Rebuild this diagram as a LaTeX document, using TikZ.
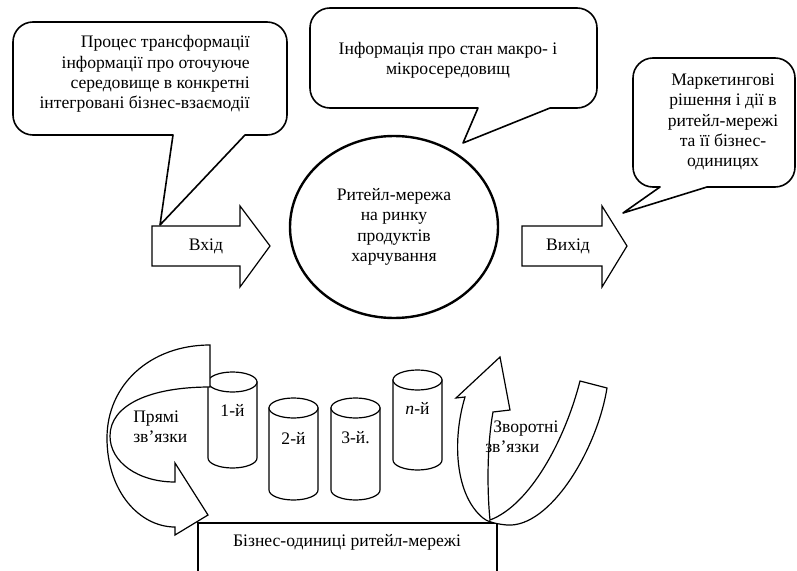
\documentclass[tikz,border=0pt]{standalone}
\usepackage{fontspec}
\setmainfont{Liberation Serif}
\usepackage{tikz}
\usetikzlibrary{shapes.geometric}
\tikzset{%
    bubble/.style={%
        draw, fill=white, line width=1.2pt, line join=round
    },
    blockarrow/.style={draw, fill=white, line width=0.9pt, line join=miter},
    unit/.style={draw, fill=white, line width=0.9pt},
    txt/.style={font=\fontsize{13.2}{15.2}\selectfont, align=center, inner sep=0pt},
    hub/.style={%
        draw, ellipse, line width=1.8pt, minimum width=156pt, minimum height=136.5pt,
        font=\fontsize{13.2}{15.2}\selectfont, align=center, inner sep=0pt
    }
}

\begin{document}
\begin{tikzpicture}[x=0.75pt,y=-0.75pt]
    \useasboundingbox (0,0) rectangle (797,571);

    \draw[bubble] (160,225) -- (245,135) [rounded corners=15pt] -- (287,135) -- (287,22)
        -- (13,22) -- (13,135) [sharp corners] -- (173,135) -- cycle;
    \node[txt, align=right, anchor=east] (procin) at (250,74)
        {Процес трансформації\\інформації про оточуюче\\середовище в конкретні\\інтегровані бізнес-взаємодії};

    \draw[bubble] (463,143) -- (550,108) [rounded corners=15pt] -- (597,108) -- (597,8)
        -- (310,8) -- (310,108) [sharp corners] -- (478,108) -- cycle;
    \node[txt] (env) at (448,60) {Інформація про стан макро- і\\мікросередовищ};

    \draw[bubble] (623,213) -- (707,187) [rounded corners=15pt] -- (795,187) -- (795,58)
        -- (633,58) -- (633,187) [sharp corners] -- (660,187) -- cycle;
    \node[txt] (dec) at (723,122) {Маркетингові\\рішення і дії в\\ритейл-мережі\\та її бізнес-\\одиницях};

    \draw[blockarrow] (152,226) -- (240,226) -- (240,206) -- (270,246) -- (240,287) -- (240,266) -- (152,266) -- cycle;
    \node[txt] (in) at (206,246) {Вхід};

    \node[hub] (net) at (394,227) {Ритейл-мережа\\на ринку\\продуктів\\харчування};

    \draw[blockarrow] (522,226) -- (602,226) -- (602,206) -- (627,246) -- (602,287) -- (602,266) -- (522,266) -- cycle;
    \node[txt] (out) at (568,246) {Вихід};

    \draw[unit] (198,523) rectangle (497,590);
    \node[txt] (units) at (347,542) {Бізнес-одиниці ритейл-мережі};

    \foreach \name/\xl/\yt/\yb/\lbl/\ly in {u1/208/382/458/1-й/410, u2/269/408/490/2-й/438,
        u3/331/408/490/3-й./438, un/393/380/460/\textit{n}-й/408}{
        \filldraw[unit] (\xl,\yt) -- (\xl,\yb) arc[start angle=180, end angle=0, x radius=24.5, y radius=10]
            -- (\xl+49,\yt) -- cycle;
        \draw[unit] (\xl+24.5,\yt) ellipse[x radius=24.5, y radius=10];
        \node[txt] (\name) at (\xl+24.5,\ly) {\lbl};
    }

    \filldraw[unit] (210,345) .. controls (150,345) and (107,385) .. (107,438)
        .. controls (107,492) and (140,527) .. (175,527) -- (175,535) -- (208,515) -- (175,463) -- (175,482)
        .. controls (138,482) and (110,462) .. (110,436) .. controls (110,405) and (150,387) .. (210,387) -- cycle;
    \node[txt, align=left, anchor=west] (fwd) at (133,427) {Прямі\\зв’язки};

    \filldraw[unit] (465,397) -- (456,398) -- (500,357) -- (510,410) -- (493,412)
        .. controls (487,445) and (487,490) .. (490,520) .. controls (530,505) and (565,440) .. (580,381)
        -- (607,388) .. controls (597,450) and (550,528) .. (507,525) .. controls (495,524) and (486,521) .. (483,518)
        .. controls (455,495) and (452,440) .. (465,397) -- cycle;
    \node[txt, align=left, anchor=west] (back) at (485,437) {\hspace*{6pt}Зворотні\\зв’язки};
\end{tikzpicture}
\end{document}
